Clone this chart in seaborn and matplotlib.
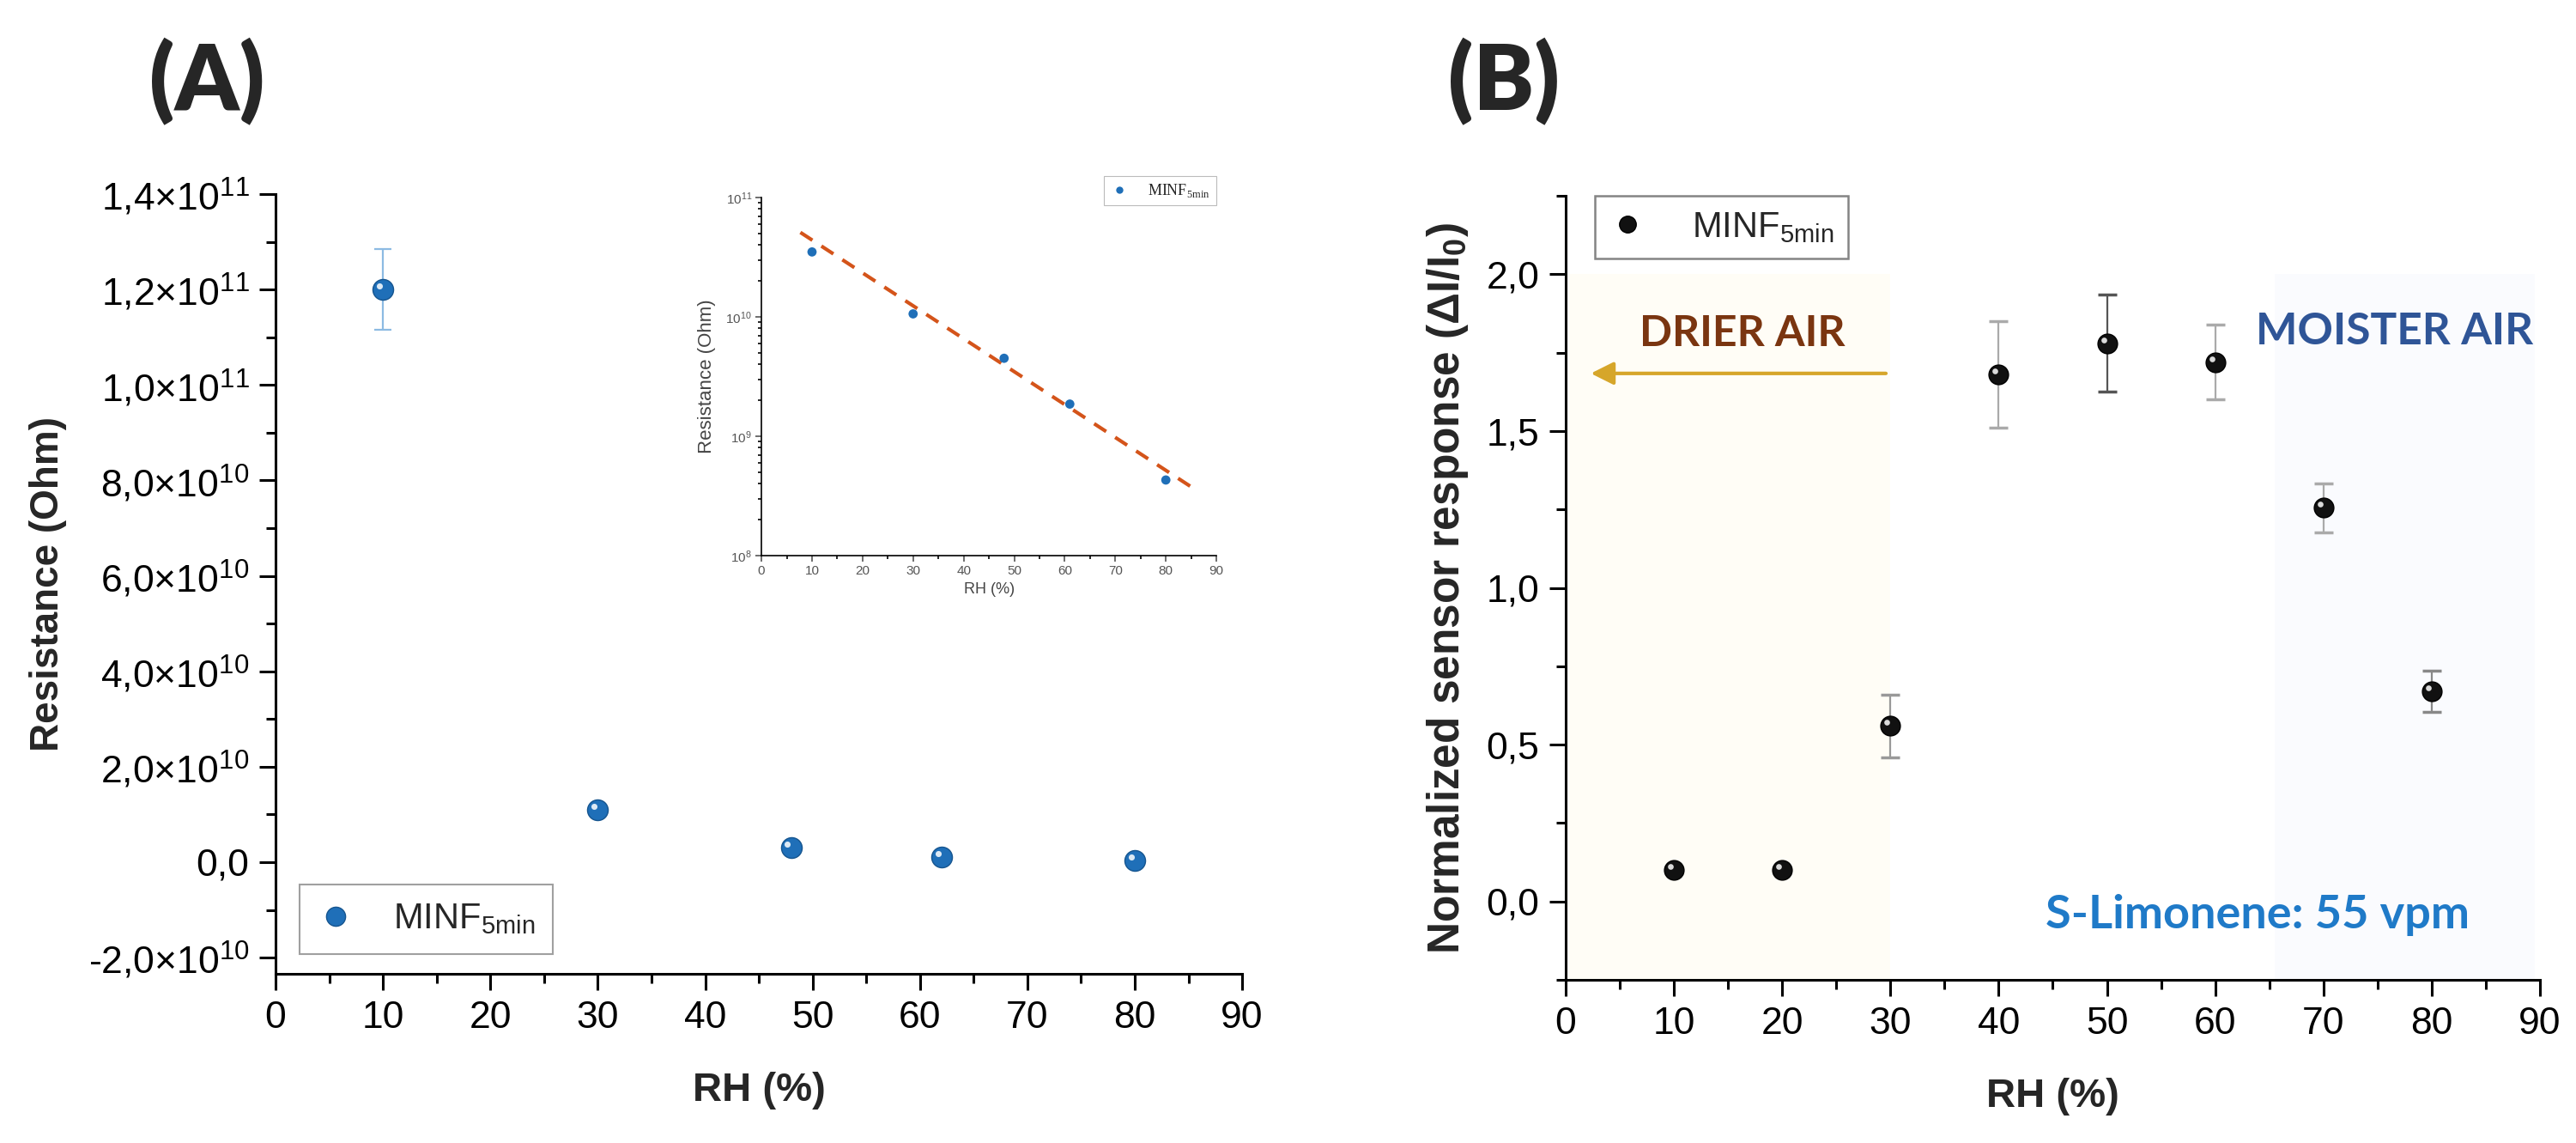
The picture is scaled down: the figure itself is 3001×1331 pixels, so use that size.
import numpy as np
import seaborn as sns
import matplotlib.pyplot as plt
from matplotlib.lines import Line2D
from matplotlib.ticker import FuncFormatter, MultipleLocator, LogLocator, NullFormatter
from matplotlib.transforms import ScaledTranslation

# --- data ---
# panel A: resistance vs relative humidity
rh_a = [10, 30, 48, 62, 80]
res_a = [1.2e11, 1.1e10, 3.0e9, 1.0e9, 4.0e8]
res_a_err = [0.085e11, 0, 0, 0, 0]

# inset (log scale) + dashed fit line
rh_in = [10, 30, 48, 61, 80]
res_in = [3.5e10, 1.06e10, 4.5e9, 1.86e9, 4.3e8]
fit_rh = [7.7, 85.3]
fit_res = [5.1e10, 3.7e8]

# panel B: normalized sensor response vs RH
rh_b = [10, 20, 30, 40, 50, 60, 70, 80]
resp_b = [0.10, 0.10, 0.56, 1.68, 1.78, 1.72, 1.256, 0.67]
resp_b_err = [0.01, 0.01, 0.10, 0.17, 0.155, 0.12, 0.078, 0.065]
err_colors = ["#bbbbbb", "#bbbbbb", "#999999", "#aaaaaa", "#555555", "#aaaaaa", "#aaaaaa", "#888888"]

legend_label = r"MINF$_\mathregular{5min}$"

sns.set_theme(style="ticks")
plt.rcParams["font.family"] = ["Liberation Sans", "DejaVu Sans"]
plt.rcParams["mathtext.fontset"] = "custom"
plt.rcParams["mathtext.rm"] = "Liberation Sans"
plt.rcParams["mathtext.it"] = "Liberation Sans:italic"
plt.rcParams["mathtext.bf"] = "Liberation Sans:bold"

BLUE = "#1f6fb8"
TICK_FS = 32

fig = plt.figure(figsize=(30.01, 13.31), dpi=100)
ax_a = fig.add_axes([0.1070, 0.1480, 0.3752, 0.6822])
ax_b = fig.add_axes([0.6078, 0.1427, 0.3782, 0.6859])
ax_in = fig.add_axes([0.2956, 0.5139, 0.1766, 0.3133])


def origin_style(ax, fs, lw=2.2, major=14, minor=8, pad=8):
    sns.despine(ax=ax)
    for s in ["left", "bottom"]:
        ax.spines[s].set_linewidth(lw)
        ax.spines[s].set_color("black")
    ax.tick_params(which="major", length=major, width=lw, direction="out", pad=pad,
                   labelsize=fs, color="black", labelcolor="black")
    ax.tick_params(which="minor", length=minor, width=lw, direction="out", color="black")
    ax.set_facecolor("white")


def highlight(ax, x, y, size):
    # small white spot to mimic Origin's shaded sphere markers
    off = ScaledTranslation(-size * 0.18 / 72, size * 0.18 / 72, fig.dpi_scale_trans)
    ax.plot(x, y, ls="none", marker="o", ms=size * 0.3, color="white", alpha=0.85,
            mec="none", transform=ax.transData + off, zorder=6)


def sci_comma(v, pos):
    if abs(v) < 1:
        return "0,0"
    exp = int(np.floor(np.log10(abs(v)) + 1e-9))
    mant = f"{v / 10**exp:.1f}".replace(".", ",")
    return mant + "×10" + rf"$^{{{exp}}}$"


# ---------------- panel A ----------------
origin_style(ax_a, TICK_FS)
ax_a.errorbar(rh_a, res_a, yerr=res_a_err, fmt="none", ecolor="#8dbbe3",
              elinewidth=1.6, capsize=7, capthick=1.6, zorder=3)
sns.scatterplot(x=rh_a, y=res_a, ax=ax_a, color=BLUE, s=300, edgecolor="#16558f",
                linewidth=1, zorder=5, legend=False)
highlight(ax_a, rh_a, res_a, 17)
ax_a.set_xlim(0, 90)
ax_a.set_ylim(-2.34e10, 1.4e11)
ax_a.xaxis.set_major_locator(MultipleLocator(10))
ax_a.xaxis.set_minor_locator(MultipleLocator(5))
ax_a.yaxis.set_major_locator(MultipleLocator(2e10))
ax_a.yaxis.set_minor_locator(MultipleLocator(1e10))
ax_a.yaxis.set_major_formatter(FuncFormatter(sci_comma))
ax_a.set_xlabel("RH (%)", fontsize=34, fontweight="bold")
ax_a.set_ylabel("Resistance (Ohm)", fontsize=33, fontweight="bold")
ax_a.xaxis.set_label_coords(0.5, -0.125)
ax_a.yaxis.set_label_coords(-0.216, 0.5)
h_a = Line2D([], [], ls="none", marker="o", ms=16, color=BLUE, mec="#16558f")
leg_a = ax_a.legend([h_a], [legend_label], loc="lower left", bbox_to_anchor=(0.025, 0.025),
                    fontsize=30, frameon=True, fancybox=False, edgecolor="#888888",
                    handlelength=1.0, handletextpad=1.1, borderpad=0.5, borderaxespad=0)
leg_a.get_frame().set_linewidth(1.5)

# ---------------- inset ----------------
origin_style(ax_in, 11, lw=1.2, major=5, minor=3, pad=3)
ax_in.set_yscale("log")
ax_in.plot(fit_rh, fit_res, ls=(0, (4, 3)), color="#d4541a", lw=3, zorder=3)
sns.scatterplot(x=rh_in, y=res_in, ax=ax_in, color=BLUE, s=60, edgecolor="none",
                zorder=5, legend=False)
ax_in.set_xlim(0, 90)
ax_in.set_ylim(1e8, 1e11)
ax_in.xaxis.set_major_locator(MultipleLocator(10))
ax_in.xaxis.set_minor_locator(MultipleLocator(5))
ax_in.yaxis.set_major_locator(LogLocator(base=10, numticks=10))
ax_in.yaxis.set_minor_locator(LogLocator(base=10, subs=np.arange(2, 10), numticks=50))
ax_in.yaxis.set_minor_formatter(NullFormatter())
ax_in.tick_params(labelsize=11, colors="#555555")
ax_in.set_xlabel("RH (%)", fontsize=13, color="#444444")
ax_in.set_ylabel("Resistance (Ohm)", fontsize=16, color="#444444")
ax_in.yaxis.set_label_coords(-0.10, 0.5)
h_in = Line2D([], [], ls="none", marker="o", ms=6, color=BLUE, mec="none")
leg_in = ax_in.legend([h_in], [legend_label], loc="upper right", bbox_to_anchor=(1.0, 1.06),
                      frameon=True, fancybox=False, edgecolor="#aaaaaa",
                      handlelength=1.2, handletextpad=1.2, borderpad=0.4, borderaxespad=0,
                      prop={"family": "Liberation Serif", "size": 13})
leg_in.get_frame().set_linewidth(0.8)

# ---------------- panel B ----------------
origin_style(ax_b, TICK_FS)
ax_b.set_xlim(0, 90)
ax_b.set_ylim(-0.25, 2.25)
ax_b.fill_between([0, 30], -0.25, 2.0, color="#fffdf6", lw=0, zorder=0)
ax_b.fill_between([65.5, 89.5], -0.25, 2.0, color="#fafbfe", lw=0, zorder=0)
for x, y, e, c in zip(rh_b, resp_b, resp_b_err, err_colors):
    ax_b.errorbar(x, y, yerr=e, fmt="none", ecolor=c, elinewidth=1.6,
                  capsize=8, capthick=2.5, zorder=3)
sns.scatterplot(x=rh_b, y=resp_b, ax=ax_b, color="#111111", s=270, edgecolor="black",
                linewidth=1, zorder=5, legend=False)
highlight(ax_b, rh_b, resp_b, 16)
ax_b.xaxis.set_major_locator(MultipleLocator(10))
ax_b.xaxis.set_minor_locator(MultipleLocator(5))
ax_b.yaxis.set_major_locator(MultipleLocator(0.5))
ax_b.yaxis.set_minor_locator(MultipleLocator(0.25))
ax_b.yaxis.set_major_formatter(FuncFormatter(lambda v, p: f"{v:.1f}".replace(".", ",")))
ax_b.set_xlabel("RH (%)", fontsize=34, fontweight="bold")
ax_b.set_ylabel("Normalized sensor response (" + r"$\mathbf{\Delta I/I_0}$" + ")",
                fontsize=37, fontweight="bold")
ax_b.xaxis.set_label_coords(0.5, -0.125)
ax_b.yaxis.set_label_coords(-0.098, 0.5)
h_b = Line2D([], [], ls="none", marker="o", ms=14, color="#111111", mec="black")
leg_b = ax_b.legend([h_b], [legend_label], loc="upper left", bbox_to_anchor=(0.03, 1.0),
                    fontsize=30, frameon=True, fancybox=False, edgecolor="#666666",
                    handlelength=1.0, handletextpad=1.3, borderpad=0.4, borderaxespad=0)
leg_b.get_frame().set_linewidth(1.8)

ax_b.annotate("", xy=(2.1, 1.684), xytext=(29.8, 1.684),
              arrowprops=dict(arrowstyle="-|>", color="#d6a62a", lw=3, mutation_scale=40))
ax_b.annotate("", xy=(90.3, 1.684), xytext=(63.7, 1.684),
              arrowprops=dict(arrowstyle="-|>", color="#4a8fd0", lw=3, mutation_scale=40))
ax_b.text(16.3, 1.81, "DRIER AIR", color="#7a3510", fontsize=36, fontweight="bold",
          family="Lato", ha="center", va="center")
ax_b.text(76.6, 1.816, "MOISTER AIR", color="#2f5597", fontsize=37, fontweight="bold",
          family="Lato", ha="center", va="center")
ax_b.text(63.9, -0.044, "S-Limonene: 55 vpm", color="#1f7ac8", fontsize=39,
          fontweight="bold", family="Lato", ha="center", va="center")

# panel letters
fig.text(241 / 3001, 1 - 95 / 1331, "(A)", fontsize=76, fontweight="heavy", family="Lato",
         ha="center", va="center")
fig.text(1752 / 3001, 1 - 95 / 1331, "(B)", fontsize=76, fontweight="heavy", family="Lato",
         ha="center", va="center")

fig.savefig("out.png", dpi=100, facecolor="white")
